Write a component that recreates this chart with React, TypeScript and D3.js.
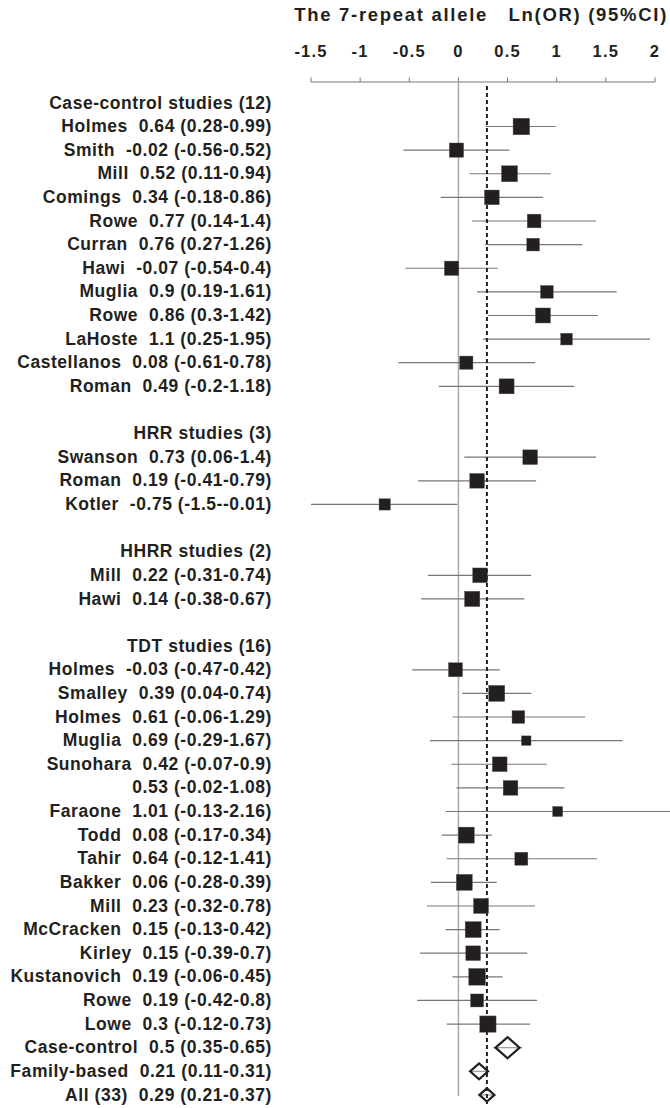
import React from "react";
import * as d3 from "d3";

const rowNames: string[] = [
  "Case-control studies (12)", "Holmes", "Smith", "Mill", "Comings", "Rowe", "Curran", "Hawi", "Muglia", "Rowe", "LaHoste", "Castellanos", "Roman",
  "",
  "HRR studies (3)", "Swanson", "Roman", "Kotler",
  "",
  "HHRR studies (2)", "Mill", "Hawi",
  "",
  "TDT studies (16)", "Holmes", "Smalley", "Holmes", "Muglia", "Sunohara", "", "Faraone", "Todd", "Tahir", "Bakker", "Mill", "McCracken", "Kirley", "Kustanovich", "Rowe", "Lowe",
  "Case-control", "Family-based", "All (33)",
];

// "h" header, "b" blank, "s" study, "d" pooled estimate
const rowTypes: string[] = [
  "h", "s", "s", "s", "s", "s", "s", "s", "s", "s", "s", "s", "s",
  "b",
  "h", "s", "s", "s",
  "b",
  "h", "s", "s",
  "b",
  "h", "s", "s", "s", "s", "s", "s", "s", "s", "s", "s", "s", "s", "s", "s", "s", "s",
  "d", "d", "d",
];

const estimates: (number | null)[] = [
  null, 0.64, -0.02, 0.52, 0.34, 0.77, 0.76, -0.07, 0.9, 0.86, 1.1, 0.08, 0.49,
  null,
  null, 0.73, 0.19, -0.75,
  null,
  null, 0.22, 0.14,
  null,
  null, -0.03, 0.39, 0.61, 0.69, 0.42, 0.53, 1.01, 0.08, 0.64, 0.06, 0.23, 0.15, 0.15, 0.19, 0.19, 0.3,
  0.5, 0.21, 0.29,
];

const lowerCI: (number | null)[] = [
  null, 0.28, -0.56, 0.11, -0.18, 0.14, 0.27, -0.54, 0.19, 0.3, 0.25, -0.61, -0.2,
  null,
  null, 0.06, -0.41, -1.5,
  null,
  null, -0.31, -0.38,
  null,
  null, -0.47, 0.04, -0.06, -0.29, -0.07, -0.02, -0.13, -0.17, -0.12, -0.28, -0.32, -0.13, -0.39, -0.06, -0.42, -0.12,
  0.35, 0.11, 0.21,
];

const upperCI: (number | null)[] = [
  null, 0.99, 0.52, 0.94, 0.86, 1.4, 1.26, 0.4, 1.61, 1.42, 1.95, 0.78, 1.18,
  null,
  null, 1.4, 0.79, -0.01,
  null,
  null, 0.74, 0.67,
  null,
  null, 0.42, 0.74, 1.29, 1.67, 0.9, 1.08, 2.16, 0.34, 1.41, 0.39, 0.78, 0.42, 0.7, 0.45, 0.8, 0.73,
  0.65, 0.31, 0.37,
];

// marker weight (square side / diamond width, px)
const markerSizes: (number | null)[] = [
  null, 16.5, 14.3, 16, 14.7, 13.7, 12.7, 14.3, 12.7, 15, 11.7, 13.3, 15,
  null,
  null, 14.7, 14.7, 11.3,
  null,
  null, 14.7, 15.3,
  null,
  null, 14, 16, 12.7, 9.5, 14.7, 14.7, 10, 16, 13, 16, 15, 16, 14.7, 16.7, 13, 16.3,
  24, 18, 15,
];

const tickValues: number[] = [-1.5, -1, -0.5, 0, 0.5, 1, 1.5, 2];
const overallEstimate = 0.29;
const titleText = "The 7-repeat allele   Ln(OR) (95%CI)";

const W = 670;
const H = 1108;
const FONT = "'Liberation Sans', Arial, Helvetica, sans-serif";
const INK = "#231f20";

export default function App() {
  const x = d3.scaleLinear().domain([-1.5, 2]).range([311, 655]);
  const y = d3.scaleLinear().domain([0, 42]).range([102.9, 102.9 + 42 * 23.62]);
  const axisY = 82;
  const lastY = y(rowNames.length - 1);

  const labelFor = (i: number) => {
    const t = rowTypes[i];
    if (t === "h") return rowNames[i];
    if (t === "b") return "";
    const nums = `${estimates[i]} (${lowerCI[i]}-${upperCI[i]})`;
    return rowNames[i] ? `${rowNames[i]}  ${nums}` : nums;
  };

  const diamond = (cx: number, cy: number, w: number) => {
    const hw = w / 2;
    const hh = hw * 0.88;
    return `M${cx - hw},${cy}L${cx},${cy - hh}L${cx + hw},${cy}L${cx},${cy + hh}Z`;
  };

  return (
    <svg
      width={W}
      height={H}
      style={{ position: "absolute", left: 0, top: 0, background: "#fff" }}
      fontFamily={FONT}
    >
      <rect x={0} y={0} width={W} height={H} fill="#fff" />
      {/* title */}
      <text
        x={668}
        y={21}
        textAnchor="end"
        fontSize={18.5}
        fontWeight="bold"
        fill={INK}
        style={{ whiteSpace: "pre", letterSpacing: "1.7px" }}
      >
        {titleText}
      </text>
      {/* axis */}
      <line x1={x(-1.5)} x2={x(2)} y1={axisY} y2={axisY} stroke="#777" strokeWidth={1} />
      {tickValues.map((t) => (
        <g key={t}>
          <line x1={x(t)} x2={x(t)} y1={axisY - 4.5} y2={axisY} stroke="#777" strokeWidth={1} />
          <text
            x={x(t)}
            y={57}
            textAnchor="middle"
            fontSize={16.5}
            fontWeight="bold"
            fill={INK}
            style={{ letterSpacing: "1.2px" }}
          >
            {String(t)}
          </text>
        </g>
      ))}
      {/* zero line */}
      <line x1={x(0)} x2={x(0)} y1={axisY} y2={lastY + 1} stroke="#aaa" strokeWidth={1.5} />
      {/* CI lines */}
      {rowNames.map((_, i) =>
        lowerCI[i] !== null ? (
          <line
            key={"ci" + i}
            x1={x(lowerCI[i] as number)}
            x2={x(upperCI[i] as number)}
            y1={y(i)}
            y2={y(i)}
            stroke={rowTypes[i] === "d" ? "#999" : "#777"}
            strokeWidth={1.2}
          />
        ) : null
      )}
      {/* overall dashed line */}
      <line
        x1={x(overallEstimate)}
        x2={x(overallEstimate)}
        y1={axisY + 4}
        y2={lastY + 9}
        stroke="#222"
        strokeWidth={2}
        strokeDasharray="4,3"
      />
      {/* squares */}
      {rowNames.map((_, i) => {
        if (rowTypes[i] !== "s") return null;
        const s = markerSizes[i] as number;
        return (
          <rect
            key={"sq" + i}
            x={x(estimates[i] as number) - s / 2}
            y={y(i) - s / 2}
            width={s}
            height={s}
            fill={INK}
            stroke="#555"
            strokeWidth={0.4}
          />
        );
      })}
      {/* diamonds */}
      {rowNames.map((_, i) => {
        if (rowTypes[i] !== "d") return null;
        return (
          <path
            key={"dm" + i}
            d={diamond(x(estimates[i] as number), y(i), markerSizes[i] as number)}
            fill="none"
            stroke={INK}
            strokeWidth={2.2}
          />
        );
      })}
      {/* labels */}
      {rowNames.map((_, i) => {
        const lab = labelFor(i);
        if (!lab) return null;
        return (
          <text
            key={"lb" + i}
            x={272}
            y={y(i) + 5.6}
            textAnchor="end"
            fontSize={17.5}
            fontWeight="bold"
            fill={INK}
            style={{ whiteSpace: "pre", letterSpacing: "0.55px" }}
          >
            {lab}
          </text>
        );
      })}
    </svg>
  );
}
